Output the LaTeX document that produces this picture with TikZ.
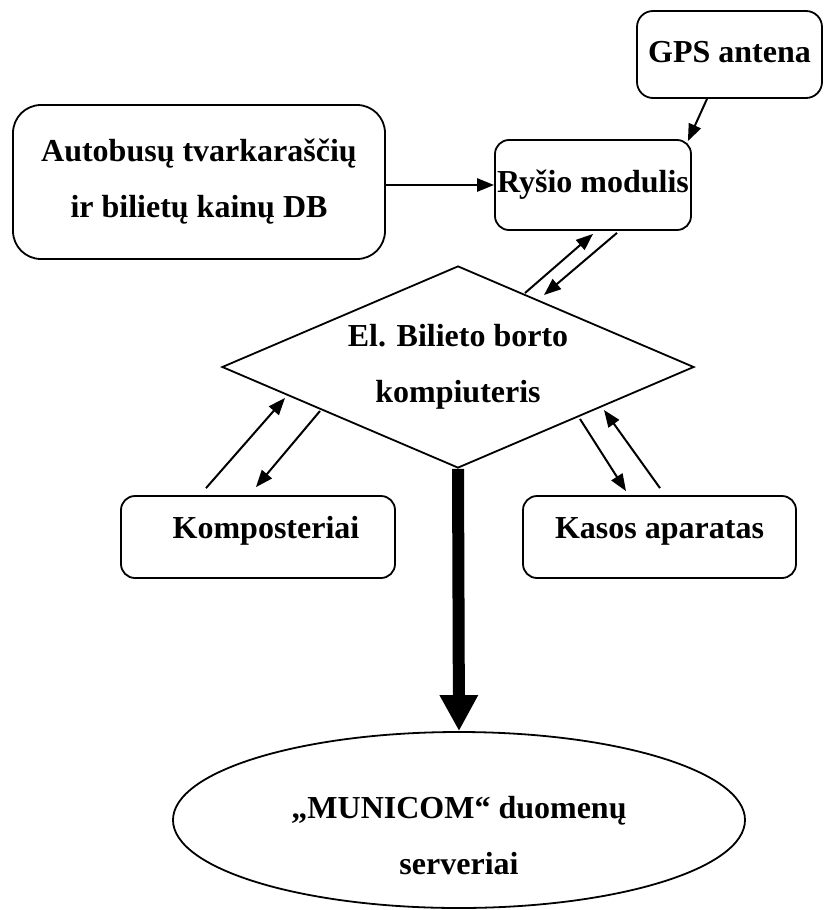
\documentclass[tikz,border=0pt]{standalone}
\usepackage{fontspec}
\setmainfont{Liberation Serif}
\usetikzlibrary{shapes.geometric,arrows.meta,calc}
\begin{document}
\begin{tikzpicture}[x=1pt,y=-1pt,
  every node/.style={font=\fontsize{32pt}{56pt}\selectfont\bfseries},
  box/.style={draw,line width=1.8pt,rounded corners=14pt,inner sep=0pt,align=center},
  arr/.style={line width=2pt,-{Triangle[length=17pt,width=13pt]}},
  big/.style={line width=12pt,-{Triangle[length=36pt,width=36pt]}}]
\useasboundingbox (0,0) rectangle (824,910);

\node[box,rounded corners=16pt,minimum width=185pt,minimum height=87pt] (gps) at (729.5,54.5) {\raisebox{2pt}[\height][\depth]{GPS antena}};
\node[box,rounded corners=28pt,minimum width=372pt,minimum height=154pt] (db) at (199,182) {Autobusų tvarkaraščių\\ir bilietų kainų DB};
\node[box,minimum width=196pt,minimum height=90pt] (ry) at (593,185) {Ryšio modulis};
\node[draw,diamond,aspect=2.337,line width=1.8pt,minimum width=472pt,minimum height=202pt,inner sep=0pt,align=center] (pc) at (458,367) {El. Bilieto borto\\kompiuteris};
\node[box,minimum width=274pt,minimum height=82pt] (komp) at (258,537) {\hspace*{16pt}\raisebox{6pt}[\height][\depth]{Komposteriai}};
\node[box,minimum width=273pt,minimum height=82pt] (kasa) at (659.5,537) {\raisebox{6pt}[\height][\depth]{Kasos aparatas}};
\node[draw,ellipse,line width=1.8pt,minimum width=572pt,minimum height=176pt,inner sep=0pt] (ell) at (459,820)
  {\raisebox{-15pt}[\height][\depth]{\begin{tabular}{@{}c@{}}„MUNICOM“ duomenų\\serveriai\end{tabular}}};

% connectors
\draw[arr] ($(gps.south)+(-22.5,0)$) -- ($(ry.north east)+(-4,2)$);
\draw[arr,line width=2.6pt] (db.east |- ry.west) -- (ry.west);
\draw[arr] ($(pc)+(67,-74)$) -- ($(ry.south)+(0,3)$);
\draw[arr] ($(ry.south)+(24,2)$) -- ($(pc)+(86,-72)$);
\draw[arr] ($(komp.north)+(-52,-7)$) -- ($(pc)+(-173,31)$);
\draw[arr] ($(pc)+(-138,44)$) -- ($(komp.north)+(-2,-8)$);
\draw[arr] ($(pc)+(122,52)$) -- ($(kasa.north)+(-33.5,-4)$);
\draw[arr] ($(kasa.north)+(0.5,-7)$) -- ($(pc)+(146,43)$);
\draw[big] (pc.south) -- (ell.north);
\end{tikzpicture}
\end{document}
